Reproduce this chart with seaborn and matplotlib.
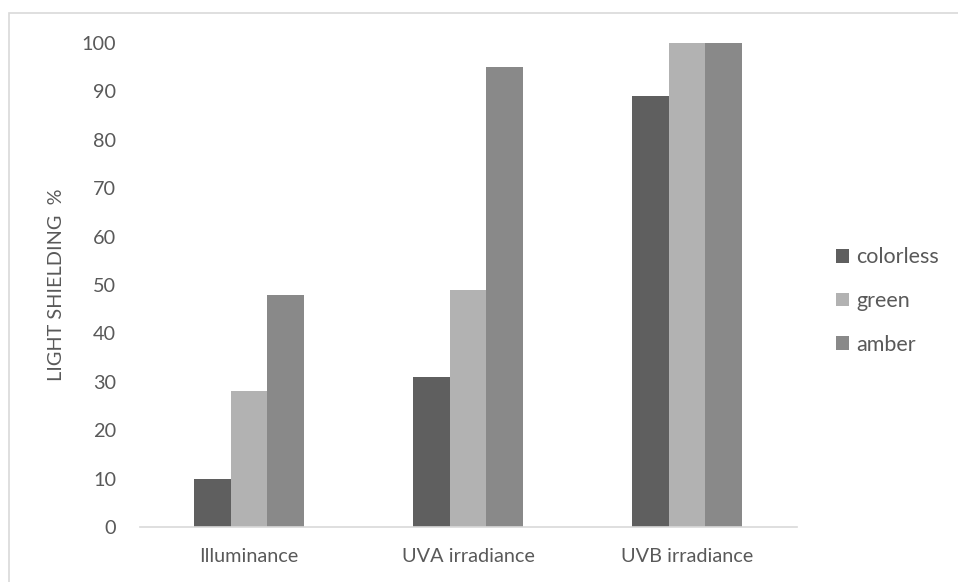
import matplotlib
matplotlib.use('Agg')
from matplotlib import pyplot as plt
from matplotlib.patches import Rectangle
import pandas as pd
import seaborn as sns

categories = ['Illuminance', 'UVA irradiance', 'UVB irradiance']
colorless = [10, 31, 89]
green = [28, 49, 100]
amber = [48, 95, 100]
series = ['colorless', 'green', 'amber']
colors = ['#5f5f5f', '#b2b2b2', '#898989']
yticks = [0, 10, 20, 30, 40, 50, 60, 70, 80, 90, 100]

df = pd.DataFrame({
    'category': categories * 3,
    'series': ['colorless'] * 3 + ['green'] * 3 + ['amber'] * 3,
    'value': colorless + green + amber,
})

sns.set_style('white')
plt.rcParams['font.family'] = ['Lato', 'DejaVu Sans']
text_color = '#595959'

fig = plt.figure(figsize=(9.58, 5.82), dpi=100)
ax = fig.add_axes([139.5 / 958, 1 - 527 / 582, 657 / 958, 484 / 582])

sns.barplot(data=df, x='category', y='value', hue='series', hue_order=series,
            palette=colors, order=categories, width=0.5, saturation=1,
            errorbar=None, linewidth=0, ax=ax)

# outer frame (only left and top edges visible in the crop)
fig.patches.append(Rectangle((9 / 958, -0.1), 1.2, 1 - 13 / 582 + 0.1,
                             transform=fig.transFigure, fill=False,
                             edgecolor='#d9d9d9', linewidth=1.2))

ax.set_ylim(0, 100)
ax.set_yticks(yticks)
ax.set_xlim(-0.5, 2.5)
for s in ['top', 'right', 'left']:
    ax.spines[s].set_visible(False)
ax.spines['bottom'].set_color('#d9d9d9')
ax.spines['bottom'].set_linewidth(1.2)
ax.tick_params(axis='y', length=0, pad=17, labelsize=14.3, labelcolor=text_color)
ax.tick_params(axis='x', length=0, pad=15, labelsize=14.3, labelcolor=text_color)
ax.set_xlabel('')
ax.set_ylabel('LIGHT SHIELDING  %', fontsize=14.3, color=text_color, labelpad=12)

leg = ax.legend(loc='center left', bbox_to_anchor=(1.03, 0.467), frameon=False,
                fontsize=15.5, labelspacing=1.1, handlelength=0.6,
                handleheight=0.6, handletextpad=0.35)
for t in leg.get_texts():
    t.set_color(text_color)

fig.savefig('out.png', dpi=100)
